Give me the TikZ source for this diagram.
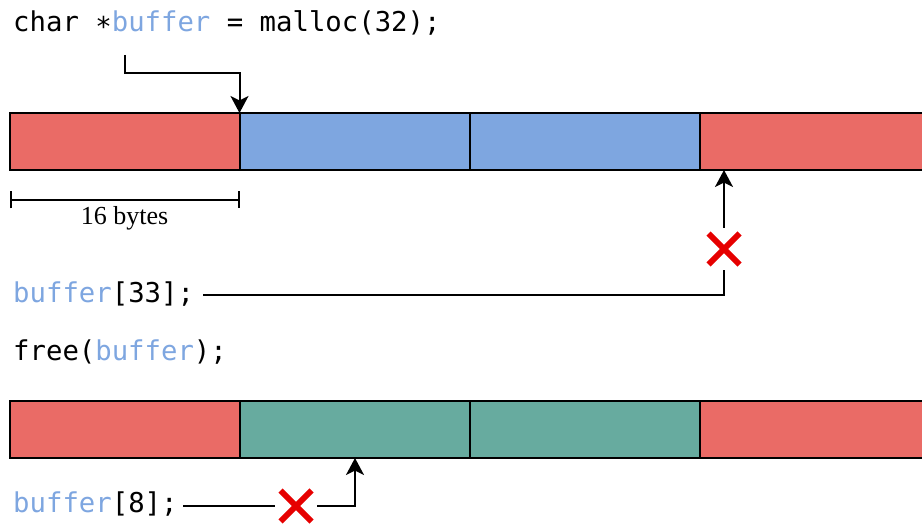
\documentclass[tikz,border=0pt]{standalone}
\usepackage{fontspec}
\setmainfont{Liberation Serif}
\setmonofont{DejaVu Sans Mono}
\usetikzlibrary{arrows.meta,calc}
\definecolor{cellred}{HTML}{EA6B66}
\definecolor{cellblue}{HTML}{7EA6E0}
\definecolor{cellgreen}{HTML}{67AB9F}
\definecolor{varblue}{HTML}{7EA6E0}
\definecolor{crossred}{HTML}{E60000}
\begin{document}
\begin{tikzpicture}[x=1pt,y=-1pt,
  cell/.style={draw=black, line width=2pt, minimum width=230pt, minimum height=57pt,
    anchor=north west, inner sep=0pt, outer sep=0pt},
  code/.style={font=\ttfamily\fontsize{27.3}{30}\selectfont, anchor=base west, inner sep=0pt},
  wire/.style={line width=2pt},
  ptr/.style={wire, -{Stealth[length=17pt,width=18pt,inset=4.5pt]}},
  gap/.style={minimum width=42pt, minimum height=42pt, inner sep=0pt, outer sep=0pt},
  xmark/.style={crossred, line width=6pt}]
\useasboundingbox (0,0) rectangle (922,524);
\begin{scope}
\clip (0,0) rectangle (922,524);

% allocation statement
\node[code] (alloc) at (13,32) {char \raisebox{-0.28ex}{*}\textcolor{varblue}{buffer} = malloc(32);};

% heap row after malloc
\node[cell, fill=cellred]  (a1) at (9.5,113) {};
\node[cell, fill=cellblue] (a2) at (a1.north east) {};
\node[cell, fill=cellblue] (a3) at (a2.north east) {};
\node[cell, fill=cellred]  (a4) at (a3.north east) {};

% pointer returned by malloc
\coordinate (bufsrc) at (125,55);
\draw[ptr] (bufsrc) -- ++(0,18) -| (a2.north west);

% size of one block
\coordinate (d0) at (a1.south west |- 0,200);
\coordinate (d1) at (a1.south east |- 0,200);
\draw[wire, {Bar[width=17pt]}-{Bar[width=17pt]}] (d0) -- (d1);
\node[font=\fontsize{26}{28}\selectfont, anchor=base, inner sep=0pt] (size) at ($(d0)!0.5!(d1)+(0,25)$) {16 bytes};

% out-of-bounds access
\node[code] (oob) at (13,302) {\textcolor{varblue}{buffer}[33];};
\coordinate (oobsrc) at (203,295);
\node[gap] (x1) at (724,249) {};
\draw[xmark] ($(x1.center)+(-15.5,-15.5)$) -- ($(x1.center)+(15.5,15.5)$);
\draw[xmark] ($(x1.center)+(-15.5,15.5)$) -- ($(x1.center)+(15.5,-15.5)$);
\draw[wire] (oobsrc) -| (x1.south);
\draw[ptr] (x1.north) -- (x1.north |- a4.south);

% release statement
\node[code] (release) at (13,360) {free(\textcolor{varblue}{buffer});};

% heap row after free
\node[cell, fill=cellred]   (b1) at (9.5,401) {};
\node[cell, fill=cellgreen] (b2) at (b1.north east) {};
\node[cell, fill=cellgreen] (b3) at (b2.north east) {};
\node[cell, fill=cellred]   (b4) at (b3.north east) {};

% use after free
\node[code] (uaf) at (13,512) {\textcolor{varblue}{buffer}[8];};
\coordinate (uafsrc) at (183,506);
\coordinate (uafdst) at (355,458);
\node[gap] (x2) at (296,506) {};
\draw[xmark] ($(x2.center)+(-15.5,-15.5)$) -- ($(x2.center)+(15.5,15.5)$);
\draw[xmark] ($(x2.center)+(-15.5,15.5)$) -- ($(x2.center)+(15.5,-15.5)$);
\draw[wire] (uafsrc) -- (x2.west);
\draw[ptr] (x2.east) -| (uafdst |- b2.south);
\end{scope}
\end{tikzpicture}
\end{document}
